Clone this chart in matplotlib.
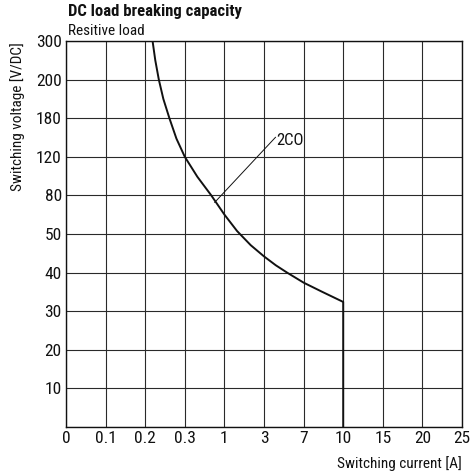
import numpy as np
import matplotlib
matplotlib.use("Agg")
import matplotlib.pyplot as plt
from matplotlib import font_manager as fm

_names = set(f.name for f in fm.fontManager.ttflist)
_cands = ['Roboto Condensed', 'Liberation Sans Narrow', 'PT Sans Narrow', 'Archivo Narrow', 'DejaVu Sans Condensed']
_fam = [c for c in _cands if c in _names][:1] + ['DejaVu Sans']
plt.rcParams['font.family'] = _fam

# Axis tick values (evenly spaced on the chart)
x_ticks = [0, 0.1, 0.2, 0.3, 1, 3, 7, 10, 15, 20, 25]
y_ticks = [0, 10, 20, 30, 40, 50, 80, 120, 180, 200, 300]
y_tick_labels = ['', '10', '20', '30', '40', '50', '80', '120', '180', '200', '300']

# 2CO curve: switching current [A] vs switching voltage [V/DC]
curve_current = [0.2186, 0.2254, 0.2344, 0.2458, 0.2611, 0.2789, 0.300, 0.522,
                 0.768, 1.00, 1.64, 2.33, 3.00, 4.19, 5.33, 7.00, 8.36, 10.0, 10.0]
curve_voltage = [300, 250.4, 200, 190, 180, 148.2, 120, 99.3,
                 80, 65.1, 52.3, 47.1, 44.2, 41.9, 40.0, 37.4, 35.1, 32.4, 0]

# annotation leader line (current, voltage) and label
ann_from = (0.829, 74.6)
ann_to = (4.16, 150.3)
ann_text_at = (4.23, 144.6)
ann_label = '2CO'

xpos = np.arange(len(x_ticks), dtype=float)
ypos = np.arange(len(y_ticks), dtype=float)

def xf(v):
    return np.interp(v, x_ticks, xpos)
def xi(p):
    return np.interp(p, xpos, x_ticks)
def yf(v):
    return np.interp(v, y_ticks, ypos)
def yi(p):
    return np.interp(p, ypos, y_ticks)

W, H = 477, 473
L, R, B, T = 66, 462, 427, 41

fig = plt.figure(figsize=(W / 100, H / 100), dpi=100)
ax = fig.add_axes([L / W, (H - B) / H, (R - L) / W, (B - T) / H])
ax.set_xscale('function', functions=(xf, xi))
ax.set_yscale('function', functions=(yf, yi))
ax.set_xlim(0, 25)
ax.set_ylim(0, 300)
ax.set_xticks(x_ticks)
ax.set_xticklabels([('%g' % v) for v in x_ticks])
ax.set_yticks(y_ticks)
ax.set_yticklabels(y_tick_labels)
ax.minorticks_off()
ax.tick_params(length=0, labelsize=12.5, colors='#111111')
ax.tick_params(axis='x', pad=3)
ax.tick_params(axis='y', pad=3)
ax.grid(True, color='#2a2a2a', linewidth=0.8)
for s in ax.spines.values():
    s.set_color('#111111')
    s.set_linewidth(1.0)

ax.plot(curve_current, curve_voltage, color='#111111', linewidth=1.4,
        solid_joinstyle='round', solid_capstyle='butt')
ax.plot([ann_from[0], ann_to[0]], [ann_from[1], ann_to[1]], color='#111111', linewidth=0.7)
ax.text(ann_text_at[0], ann_text_at[1], ann_label, fontsize=12, ha='left', va='center', color='#111111')

fig.text(L / W + 0.005, 1 - 16 / H, 'DC load breaking capacity', fontsize=12, fontweight='bold',
         ha='left', va='baseline', color='#111111')
fig.text(L / W + 0.005, 1 - 35 / H, 'Resitive load', fontsize=11, ha='left', va='baseline', color='#111111')
fig.text(R / W, 1 - 468 / H, 'Switching current [A]', fontsize=11, ha='right', va='baseline', color='#111111')
fig.text(18 / W, 1 - 42 / H, 'Switching voltage [V/DC]', fontsize=11, ha='center', va='top',
         rotation=90, color='#111111')

fig.savefig('out.png', dpi=100)
